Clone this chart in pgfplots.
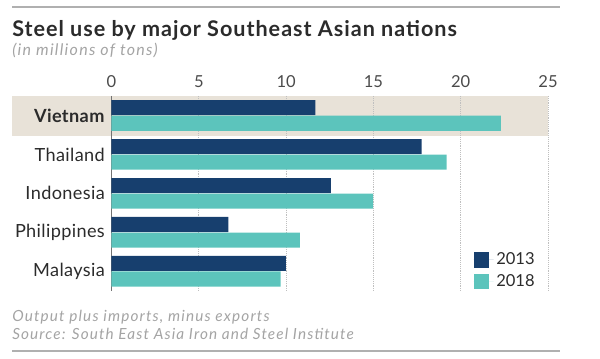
\documentclass[border=0pt]{standalone}
\usepackage{fontspec}
\setmainfont{Lato}
\usepackage{pgfplots}
\pgfplotsset{compat=1.18}
\definecolor{navy}{HTML}{173F6E}
\definecolor{teal2}{HTML}{5CC4BC}
\definecolor{band}{HTML}{E8E2D8}
\definecolor{txt}{HTML}{2B2B2B}
\definecolor{lgray}{HTML}{9A9A9A}
\definecolor{rule}{HTML}{B0B0B0}
\begin{document}
\begin{tikzpicture}
\begin{scope}[x=0.75pt,y=-0.75pt]
\useasboundingbox (0,0) rectangle (600,359);
\fill[band] (11.7,96) rectangle (548,136);
\draw[rule,line width=1.1pt] (12,7) -- (560,7);
\draw[rule,line width=1.1pt] (12,351) -- (560,351);
\node[anchor=base west,inner sep=0pt,font=\fontsize{16.2}{18}\selectfont\bfseries\addfontfeatures{LetterSpace=4.5},text=txt] at (12,37) {Steel use by major Southeast Asian nations};
\node[anchor=base west,inner sep=0pt,font=\fontsize{12}{13}\selectfont\itshape\addfontfeatures{LetterSpace=8},text=lgray!90] at (12,56) {(in millions of tons)};
\node[anchor=base west,inner sep=0pt,font=\fontsize{11.5}{13}\selectfont\itshape\addfontfeatures{LetterSpace=7.5},text=lgray!90] at (12,321.5) {Output plus imports, minus exports};
\node[anchor=base west,inner sep=0pt,font=\fontsize{11.5}{13}\selectfont\itshape\addfontfeatures{LetterSpace=7.2},text=lgray!90] at (12,340) {Source: South East Asia Iron and Steel Institute};
\end{scope}
\begin{axis}[
  at={(83.625pt,-72pt)}, anchor=north west,
  scale only axis, width=327.4pt, height=146pt,
  xmin=0, xmax=25, ymin=-0.5, ymax=4.5,
  y dir=reverse,
  clip=false,
  axis line style={draw=none},
  major tick length=0pt,
  xtick={0,5,10,15,20,25},
  xticklabel pos=upper,
  xmajorgrids,
  grid style={densely dotted, draw=black!25, line width=0.6pt},
  ytick={0,1,2,3,4},
  yticklabels={\textbf{Vietnam},Thailand,Indonesia,Philippines,Malaysia},
  yticklabel style={font=\fontsize{13.6}{15}\selectfont\addfontfeatures{LetterSpace=2}, text=txt, anchor=east, xshift=-1.5pt},
  xticklabel style={font=\fontsize{12.4}{14}\selectfont, text=txt!85, yshift=2.5pt},
  /pgf/number format/assume math mode=true,
  legend style={at={(0.829,-0.003)}, anchor=south west, draw=none, fill=none, inner sep=0pt, row sep=1.6pt,
    font=\fontsize{12.4}{14}\selectfont, text=txt, cells={anchor=west}},
  legend cell align=left,
]
\draw[black!55, line width=0.9pt] (axis cs:0,-0.5) -- (axis cs:0,4.5);
\addplot[xbar, bar width=11.3pt, bar shift=0pt, fill=navy, draw=none,
  legend image code/.code={\path (0pt,0pt) -- (15pt,0pt); \fill[navy] (0pt,-5.8pt) rectangle (11.6pt,5.8pt);}]
  coordinates {(11.67,-0.2) (17.76,0.8) (12.57,1.8) (6.69,2.8) (9.98,3.8)};
\addlegendentry{2013}
\addplot[xbar, bar width=11.3pt, bar shift=0pt, fill=teal2, draw=none,
  legend image code/.code={\path (0pt,0pt) -- (15pt,0pt); \fill[teal2] (0pt,-5.8pt) rectangle (11.6pt,5.8pt);}]
  coordinates {(22.30,0.2) (19.19,1.2) (14.98,2.2) (10.79,3.2) (9.69,4.2)};
\addlegendentry{2018}
\end{axis}
\end{tikzpicture}
\end{document}
